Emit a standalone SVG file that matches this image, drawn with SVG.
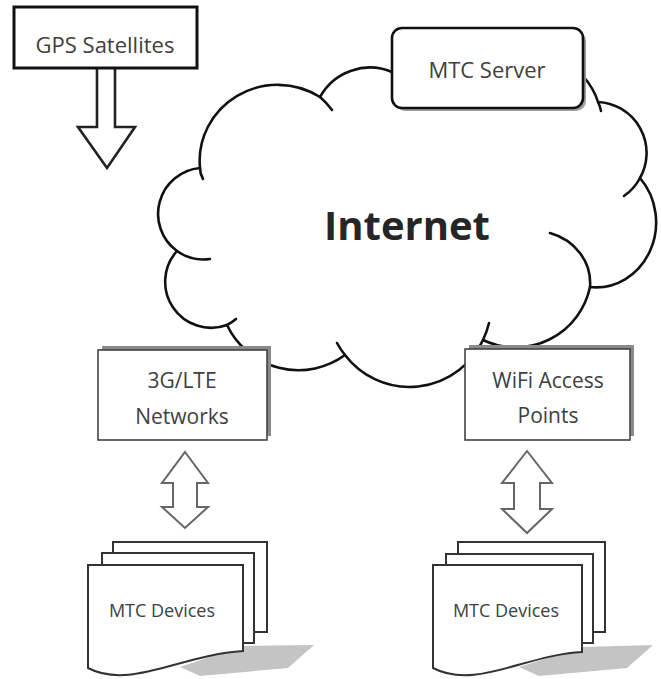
<svg xmlns="http://www.w3.org/2000/svg" width="661" height="679" viewBox="0 0 661 679">
<defs>
<style>
.lbl{font-family:"Open Sans","Liberation Sans",sans-serif;fill:#404040;text-anchor:middle;font-size:21px}
.dev{font-family:"Open Sans","Liberation Sans",sans-serif;fill:#404040;text-anchor:middle;font-size:18px}
.big{font-family:"Open Sans","Liberation Sans",sans-serif;fill:#262626;text-anchor:middle;font-size:40px;font-weight:bold}
.cloud{fill:#fff;stroke:#111;stroke-width:2.6;stroke-linejoin:round}
.curl{fill:none;stroke:#111;stroke-width:2.6;stroke-linecap:round}
.netbox{fill:#fff;stroke:#444;stroke-width:1.6}
.netsh{fill:#8a8a8a}
.page{fill:#fff;stroke:#333;stroke-width:2}
.pshadow{fill:#c4c4c4}
.dbl{fill:#fff;stroke:#666;stroke-width:2;stroke-linejoin:miter}
</style>
</defs>
<rect width="661" height="679" fill="#fff"/>

<g id="connectors">
  <path d="M97,68 L97,127 L78,127 L107,168 L135,127 L115,127 L115,68" fill="#fff" stroke="#222" stroke-width="2.6" stroke-linejoin="miter"/>
  <path class="dbl" d="M185,452 L208,483 L197,483 L197,507 L208,507 L185,528 L162,507 L173,507 L173,483 L162,483 Z"/>
  <path class="dbl" d="M527,451 L552,483 L540,483 L540,509 L552,509 L527,533 L502,509 L514,509 L514,483 L502,483 Z"/>
</g>

<g id="internet">
  <path class="cloud" d="M320,97 A78 76 0 0 0 200,168 A46 46 0 0 0 177,251 A46 46 0 0 0 227,325 A79 79 0 0 0 345,355 A81 81 0 0 0 483,340 A76 76 0 0 0 590,287 A60 65 0 0 0 640,178 A51 51 0 0 0 598,102 C595,92 590,84 583,76 L575,66 L420,62 L392,72 A57 57 0 0 0 320,97 Z"/>
  <path class="curl" d="M320,97 A78 76 0 0 1 332,110"/>
  <path class="curl" d="M200,168 Q200,174 203,179"/>
  <path class="curl" d="M177,251 A46 46 0 0 0 210,259"/>
  <path class="curl" d="M227,325 A46 46 0 0 0 236,319"/>
  <path class="curl" d="M345,355 A81 81 0 0 1 337,343"/>
  <path class="curl" d="M483,340 A81 81 0 0 0 489,323"/>
  <path class="curl" d="M590,287 C592,262 575,240 550,233"/>
  <path class="curl" d="M640,178 A51 51 0 0 1 624,196"/>
  <path class="curl" d="M598,102 Q600,106 601,111"/>
  <text class="big" x="407" y="240">Internet</text>
</g>

<g id="gps">
  <rect x="14" y="7" width="183" height="61" fill="#fff" stroke="#111" stroke-width="3"/>
  <text class="lbl" x="105" y="53" style="font-size:22px">GPS Satellites</text>
</g>

<g id="mtc-server">
  <rect x="395" y="31" width="191" height="80" rx="10" fill="#a0a0a0"/>
  <rect x="392" y="28" width="191" height="80" rx="10" fill="#fff" stroke="#111" stroke-width="2.6"/>
  <text class="lbl" x="487" y="78" style="font-size:22px">MTC Server</text>
</g>

<g id="lte">
  <rect class="netsh" x="102" y="346" width="169" height="90"/>
  <rect class="netbox" x="98" y="350" width="169" height="90"/>
  <text class="lbl" x="182" y="388">3G/LTE</text>
  <text class="lbl" x="182" y="424">Networks</text>
</g>

<g id="wifi">
  <rect class="netsh" x="469" y="345" width="165" height="91"/>
  <rect class="netbox" x="465" y="349" width="165" height="91"/>
  <text class="lbl" x="548" y="388">WiFi Access</text>
  <text class="lbl" x="548" y="423">Points</text>
</g>

<g id="devices-left">
  <polygon class="pshadow" points="243,646 314,645 288,668 200,676 180,667"/>
  <rect class="page" x="113" y="542" width="154" height="90"/>
  <rect class="page" x="102" y="553" width="152" height="90"/>
  <path class="page" d="M88,565 H243 V651 C180,655 130,690 88,668 Z"/>
  <text class="dev" x="162" y="617">MTC Devices</text>
</g>

<g id="devices-right">
  <polygon class="pshadow" points="582,647 653,645 627,668 539,676 519,667"/>
  <rect class="page" x="458" y="542" width="147" height="90"/>
  <rect class="page" x="446" y="554" width="147" height="89"/>
  <path class="page" d="M433,565 H582 V652 C525,655 475,690 433,668 Z"/>
  <text class="dev" x="506" y="617">MTC Devices</text>
</g>
</svg>
